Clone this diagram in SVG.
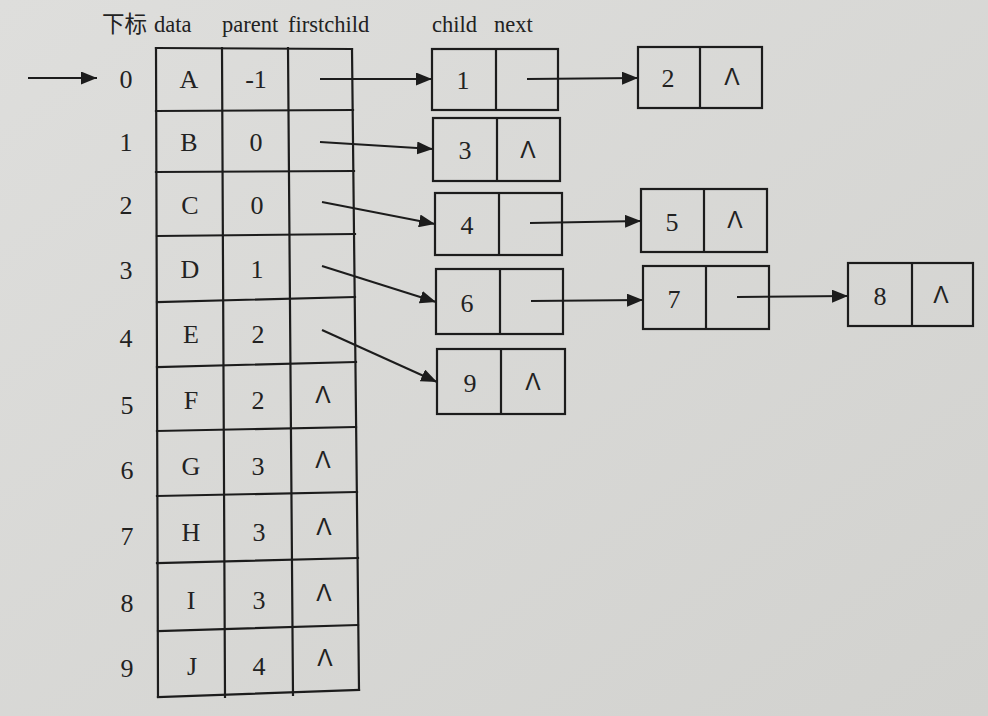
<svg xmlns="http://www.w3.org/2000/svg" width="988" height="716" viewBox="0 0 988 716">
<defs>
<linearGradient id="bg" x1="0" y1="0" x2="1" y2="1">
<stop offset="0" stop-color="#dededc"/>
<stop offset="1" stop-color="#d2d2cf"/>
</linearGradient>
<marker id="ah" markerUnits="userSpaceOnUse" markerWidth="16" markerHeight="13" refX="16" refY="6.5" orient="auto">
<path d="M0,0 L16,6.5 L0,13 z" fill="#1c1c1c"/>
</marker>
<style>
.g{stroke:#1c1c1c;stroke-width:2.2;fill:none;stroke-linecap:square}
.b{stroke:#1c1c1c;stroke-width:2.2;fill:none}
.c{stroke:#1c1c1c;stroke-width:2;fill:none;marker-end:url(#ah)}
.t{font-family:"Liberation Serif","Noto Sans CJK SC",serif;font-size:26px;fill:#222;text-anchor:middle}
.h{font-family:"Liberation Serif","Noto Sans CJK SC",serif;font-size:22.5px;fill:#222}
.n{font-family:"Liberation Sans",sans-serif;font-size:23px;fill:#222;text-anchor:middle}
</style>
</defs>
<rect width="988" height="716" fill="url(#bg)"/>
<g id="headers">
<text class="h" y="32"><tspan x="102">下标</tspan><tspan x="154">data</tspan></text>
<text class="h" y="32"><tspan x="222">parent</tspan><tspan x="288">firstchild</tspan></text>
<text class="h" y="32"><tspan x="432">child</tspan><tspan x="494">next</tspan></text>
</g>
<g id="table">
<g id="grid">
<path class="g" d="M156,48 L158,697 M222,48 L225,697 M288,48 L293,695 M352,49 L359,690"/>
<path class="g" d="M156,48 L352,49 M156,111 L353,110 M156,172 L354,171 M157,236 L355,234 M157,302 L355,297 M157,367 L356,362 M157,431 L356,427 M157,496 L357,492 M157,563 L358,558 M158,631 L358,625 M158,697 L359,690"/>
</g>
<g id="row0"><text class="t" x="126" y="88">0</text><text class="t" x="189" y="88">A</text><text class="t" x="256" y="88">-1</text></g>
<g id="row1"><text class="t" x="126" y="151">1</text><text class="t" x="189" y="151">B</text><text class="t" x="256" y="151">0</text></g>
<g id="row2"><text class="t" x="126" y="214">2</text><text class="t" x="190" y="214">C</text><text class="t" x="257" y="214">0</text></g>
<g id="row3"><text class="t" x="126" y="279">3</text><text class="t" x="190" y="278">D</text><text class="t" x="257" y="278">1</text></g>
<g id="row4"><text class="t" x="126" y="347">4</text><text class="t" x="191" y="343">E</text><text class="t" x="258" y="343">2</text></g>
<g id="row5"><text class="t" x="127" y="414">5</text><text class="t" x="191" y="409">F</text><text class="t" x="258" y="409">2</text><text class="n" x="323" y="403">Λ</text></g>
<g id="row6"><text class="t" x="127" y="479">6</text><text class="t" x="191" y="475">G</text><text class="t" x="258" y="475">3</text><text class="n" x="323" y="468">Λ</text></g>
<g id="row7"><text class="t" x="127" y="545">7</text><text class="t" x="191" y="541">H</text><text class="t" x="259" y="541">3</text><text class="n" x="324" y="535">Λ</text></g>
<g id="row8"><text class="t" x="127" y="612">8</text><text class="t" x="191" y="609">I</text><text class="t" x="259" y="609">3</text><text class="n" x="324" y="601">Λ</text></g>
<g id="row9"><text class="t" x="127" y="677">9</text><text class="t" x="192" y="675">J</text><text class="t" x="259" y="675">4</text><text class="n" x="325" y="666">Λ</text></g>
</g>
<g id="n1"><rect class="b" x="432" y="49" width="126" height="61"/><path class="b" d="M496,49 V110"/><text class="t" x="463" y="89">1</text></g>
<g id="n2"><rect class="b" x="638" y="47" width="124" height="61"/><path class="b" d="M700,47 V108"/><text class="t" x="668" y="87">2</text><text class="n" x="732" y="85">Λ</text></g>
<g id="n3"><rect class="b" x="433" y="118" width="127" height="63"/><path class="b" d="M497,118 V181"/><text class="t" x="465" y="159">3</text><text class="n" x="528" y="158">Λ</text></g>
<g id="n4"><rect class="b" x="435" y="193" width="127" height="62"/><path class="b" d="M499,193 V255"/><text class="t" x="467" y="234">4</text></g>
<g id="n5"><rect class="b" x="641" y="189" width="126" height="63"/><path class="b" d="M704,189 V252"/><text class="t" x="672" y="231">5</text><text class="n" x="735" y="228">Λ</text></g>
<g id="n6"><rect class="b" x="436" y="269" width="127" height="65"/><path class="b" d="M500,269 V334"/><text class="t" x="467" y="312">6</text></g>
<g id="n7"><rect class="b" x="643" y="266" width="126" height="63"/><path class="b" d="M706,266 V329"/><text class="t" x="674" y="308">7</text></g>
<g id="n8"><rect class="b" x="848" y="263" width="125" height="63"/><path class="b" d="M912,263 V326"/><text class="t" x="880" y="305">8</text><text class="n" x="941" y="303">Λ</text></g>
<g id="n9"><rect class="b" x="437" y="349" width="128" height="65"/><path class="b" d="M501,349 V414"/><text class="t" x="470" y="392">9</text><text class="n" x="533" y="390">Λ</text></g>
<g id="connectors">
<path class="c" d="M28,78 L97,78"/>
<path class="c" d="M320,79 L432,79"/>
<path class="c" d="M527,79 L638,78"/>
<path class="c" d="M320,142 L433,149"/>
<path class="c" d="M322,202 L435,224"/>
<path class="c" d="M530,223 L641,221"/>
<path class="c" d="M322,266 L436,302"/>
<path class="c" d="M531,301 L643,300"/>
<path class="c" d="M737,297 L848,296"/>
<path class="c" d="M322,330 L437,382"/>
</g>
</svg>
